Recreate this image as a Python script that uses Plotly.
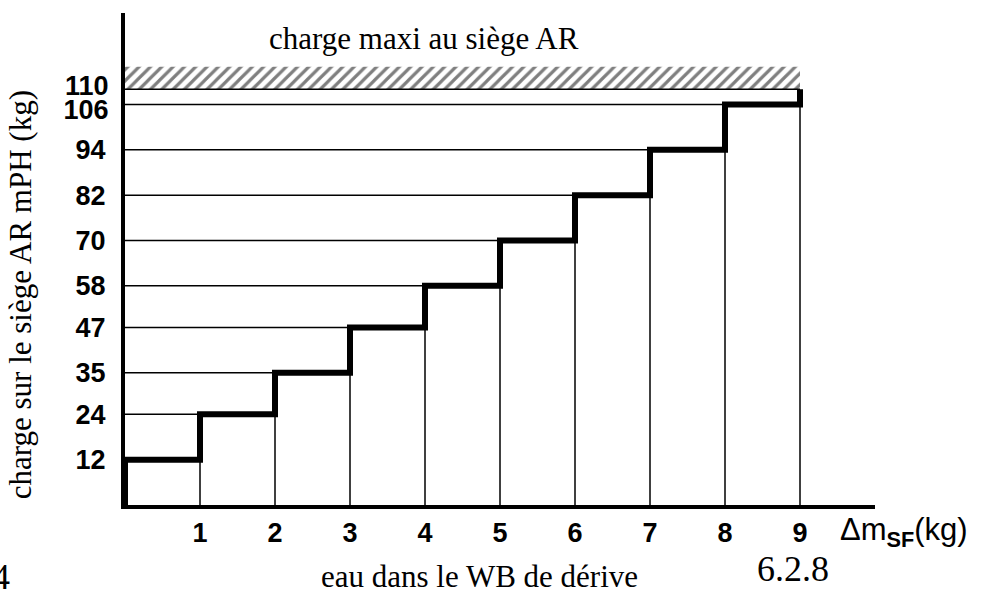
import plotly.graph_objects as go

# ---- data ----
step_x = [0, 1, 2, 3, 4, 5, 6, 7, 8, 9]          # Δm_SF (kg) boundaries
step_values = [12, 24, 35, 47, 58, 70, 82, 94, 106]  # charge per interval (kg)
max_load = 110                                    # charge maxi au siège AR
hatch_top = 116
x_tick_vals = [1, 2, 3, 4, 5, 6, 7, 8, 9]
x_tick_text = ["1", "2", "3", "4", "5", "6", "7", "8", "9"]
y_tick_vals_main = step_values[:-1]
y_tick_text_main = [str(v) for v in y_tick_vals_main]
y_tick_top = [step_values[-1]]
y_tick_max = [max_load]

SERIF = "Liberation Serif, Times New Roman, serif"
SANS = "Liberation Sans, Arial, sans-serif"
Y_RANGE = [0, 130.2]
TICKFONT = dict(family=SANS, size=27, color="black", weight="bold")

fig = go.Figure()

# hatched band (max load)
fig.add_trace(go.Scatter(
    x=[step_x[0], step_x[-1], step_x[-1], step_x[0], step_x[0]],
    y=[max_load, max_load, hatch_top, hatch_top, max_load],
    mode="lines", fill="toself", fillcolor="white",
    fillpattern=dict(shape="/", fgcolor="black", bgcolor="white", size=8, solidity=0.4),
    line=dict(width=0), hoverinfo="skip"))

# thin horizontal lines: from axis to start of each step, plus max-load line
hx, hy = [], []
for i, v in enumerate(step_values):
    hx += [step_x[0], step_x[i], None]
    hy += [v, v, None]
hx += [step_x[0], step_x[-1], None]
hy += [max_load, max_load, None]
# thin vertical lines: at each boundary up to the previous step
for i in range(1, len(step_x)):
    hx += [step_x[i], step_x[i], None]
    hy += [0, step_values[i - 1], None]
fig.add_trace(go.Scatter(x=hx, y=hy, mode="lines",
                         line=dict(color="black", width=1.5), hoverinfo="skip"))

# thick step line
sx, sy = [step_x[0]], [0]
for i, v in enumerate(step_values):
    sx += [step_x[i], step_x[i + 1]]
    sy += [v, v]
sx.append(step_x[-1])
sy.append(max_load)
fig.add_trace(go.Scatter(x=sx, y=sy, mode="lines",
                         line=dict(color="black", width=6, shape="linear"),
                         hoverinfo="skip"))

# invisible anchors for the overlay axes carrying the two crowded top labels
fig.add_trace(go.Scatter(x=[None], y=[None], yaxis="y2", showlegend=False, hoverinfo="skip"))
fig.add_trace(go.Scatter(x=[None], y=[None], yaxis="y3", showlegend=False, hoverinfo="skip"))

fig.update_xaxes(range=[0, 10.0], showgrid=False, zeroline=False,
                 showline=True, linecolor="black", linewidth=4,
                 tickvals=x_tick_vals, ticktext=x_tick_text,
                 ticks="outside", ticklen=1, tickcolor="rgba(0,0,0,0)",
                 tickfont=TICKFONT)
fig.update_yaxes(range=Y_RANGE, showgrid=False, zeroline=False,
                 showline=True, linecolor="black", linewidth=4,
                 tickvals=y_tick_vals_main, ticktext=y_tick_text_main,
                 ticks="outside", ticklen=10, tickcolor="rgba(0,0,0,0)",
                 tickfont=TICKFONT)

overlay_common = dict(range=Y_RANGE, overlaying="y", anchor="x", side="left",
                      showgrid=False, zeroline=False, showline=False,
                      ticks="outside", ticklen=10, tickcolor="rgba(0,0,0,0)",
                      tickfont=TICKFONT)

annotations = [
    dict(text="charge maxi au siège AR", x=3.98, y=123.5, xref="x", yref="y",
         xanchor="center", yanchor="middle",
         showarrow=False, font=dict(family=SERIF, size=31, color="black")),
    dict(text="charge sur le siège AR mPH (kg)", textangle=-90,
         x=-0.14, y=55.5, xref="paper", yref="y", xanchor="center", yanchor="middle",
         showarrow=False, font=dict(family=SERIF, size=31, color="black")),
    dict(text="Δm<sub><b>SF</b></sub>(kg)", x=0.951, y=-0.055, xref="paper", yref="paper",
         xanchor="left", yanchor="middle", showarrow=False,
         font=dict(family=SANS, size=31, color="black")),
    dict(text="6.2.8", x=0.891, y=-0.130, xref="paper", yref="paper",
         xanchor="center", yanchor="middle",
         showarrow=False, font=dict(family=SERIF, size=36, color="black")),
    dict(text="eau dans le WB de dérive", x=0.473, y=-0.146, xref="paper", yref="paper",
         xanchor="center", yanchor="middle",
         showarrow=False, font=dict(family=SERIF, size=31, color="black")),
    dict(text="4", x=-0.1507, y=-0.146, xref="paper", yref="paper",
         xanchor="right", yanchor="middle",
         showarrow=False, font=dict(family=SERIF, size=36, color="black")),
]

fig.update_layout(width=987, height=598,
                  margin=dict(l=125, r=112, t=13, b=93),
                  plot_bgcolor="white", paper_bgcolor="white",
                  showlegend=False, annotations=annotations,
                  yaxis2=dict(tickvals=y_tick_max, ticktext=[str(v) for v in y_tick_max],
                              ticklabelshift=-4, **overlay_common),
                  yaxis3=dict(tickvals=y_tick_top, ticktext=[str(v) for v in y_tick_top],
                              ticklabelshift=5, **overlay_common))

fig.write_html("out.html", config={"displayModeBar": False},
               post_script="document.body.style.margin='0';document.body.style.overflow='hidden';")
